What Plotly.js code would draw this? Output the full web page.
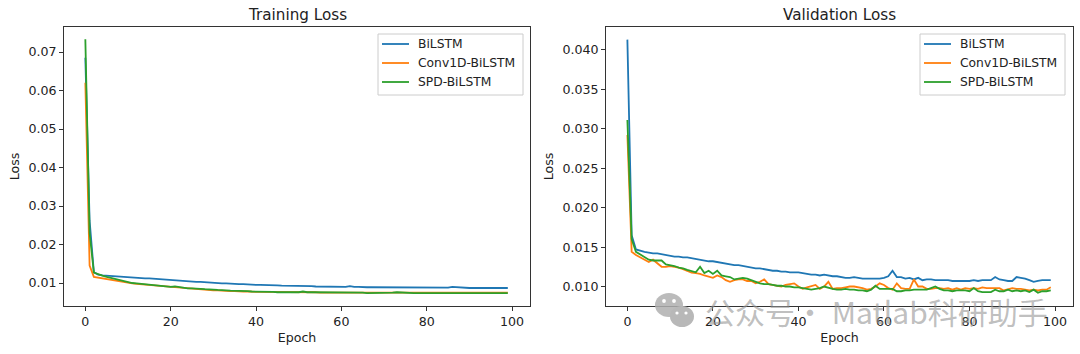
<!DOCTYPE html>
<html><head><meta charset="utf-8">
<script src="https://cdn.plot.ly/plotly-3.0.1.min.js"></script>
<style>html,body{margin:0;padding:0;background:#fff}</style></head>
<body><div id="chart" style="width:1080px;height:354px"></div>
<script>
const epochs = Array.from({length:100},(_,i)=>i);
const seriesNames = ['BiLSTM','Conv1D-BiLSTM','SPD-BiLSTM'];
const seriesColors = ['#1f77b4','#ff7f0e','#2ca02c'];
const xTicks = [0,20,40,60,80,100];
const trainTicks = [0.01,0.02,0.03,0.04,0.05,0.06,0.07];
const valTicks = [0.010,0.015,0.020,0.025,0.030,0.035,0.040];

const trainBiLSTM = [0.0685,0.0262,0.0128,0.0122,0.0120,0.0119,0.0119,0.0118,0.0117,0.0116,
0.0115,0.0115,0.0114,0.0113,0.0112,0.0112,0.0111,0.0110,0.0109,0.0108,
0.0107,0.0107,0.0106,0.0105,0.0105,0.0104,0.0103,0.0103,0.0102,0.0101,
0.0100,0.0100,0.0099,0.0099,0.0098,0.0098,0.0097,0.0097,0.0096,0.0096,
0.0095,0.0095,0.0095,0.0094,0.0094,0.0094,0.0093,0.0093,0.0093,0.0092,
0.0092,0.0092,0.0092,0.0092,0.0091,0.0091,0.0091,0.0091,0.0090,0.0090,
0.0090,0.0090,0.0092,0.0090,0.0090,0.0089,0.0089,0.0089,0.0089,0.0089,
0.0089,0.0089,0.0089,0.0089,0.0089,0.0089,0.0089,0.0088,0.0088,0.0088,
0.0088,0.0088,0.0088,0.0088,0.0088,0.0088,0.0090,0.0089,0.0088,0.0087,
0.0087,0.0087,0.0087,0.0087,0.0087,0.0087,0.0087,0.0087,0.0087,0.0087];
const trainConv = [0.0620,0.0145,0.0116,0.0114,0.0112,0.0110,0.0108,0.0106,0.0104,0.0102,
0.0100,0.0099,0.0098,0.0097,0.0096,0.0095,0.0094,0.0092,0.0091,0.0090,
0.0089,0.0089,0.0088,0.0087,0.0085,0.0085,0.0084,0.0084,0.0083,0.0082,
0.0081,0.0081,0.0080,0.0080,0.0079,0.0079,0.0078,0.0078,0.0078,0.0077,
0.0077,0.0077,0.0077,0.0076,0.0076,0.0076,0.0076,0.0076,0.0076,0.0076,
0.0076,0.0076,0.0076,0.0076,0.0076,0.0075,0.0075,0.0075,0.0076,0.0076,
0.0076,0.0076,0.0076,0.0075,0.0075,0.0075,0.0075,0.0075,0.0075,0.0075,
0.0075,0.0075,0.0076,0.0076,0.0075,0.0075,0.0075,0.0075,0.0075,0.0075,
0.0075,0.0076,0.0075,0.0075,0.0075,0.0075,0.0075,0.0075,0.0076,0.0075,
0.0075,0.0076,0.0075,0.0075,0.0075,0.0075,0.0075,0.0075,0.0075,0.0075];
const trainSPD = [0.0733,0.0230,0.0127,0.0122,0.0119,0.0116,0.0113,0.0111,0.0108,0.0105,
0.0102,0.0100,0.0099,0.0098,0.0097,0.0096,0.0095,0.0094,0.0092,0.0091,
0.0090,0.0091,0.0089,0.0088,0.0086,0.0086,0.0086,0.0085,0.0084,0.0084,
0.0083,0.0082,0.0082,0.0081,0.0080,0.0080,0.0079,0.0079,0.0079,0.0078,
0.0078,0.0078,0.0077,0.0077,0.0077,0.0076,0.0076,0.0076,0.0076,0.0076,
0.0076,0.0078,0.0076,0.0076,0.0076,0.0075,0.0075,0.0075,0.0075,0.0075,
0.0075,0.0075,0.0075,0.0075,0.0075,0.0075,0.0074,0.0074,0.0074,0.0075,
0.0075,0.0075,0.0075,0.0076,0.0075,0.0075,0.0074,0.0074,0.0074,0.0074,
0.0074,0.0074,0.0074,0.0074,0.0074,0.0074,0.0074,0.0074,0.0074,0.0074,
0.0074,0.0074,0.0074,0.0074,0.0074,0.0074,0.0074,0.0074,0.0074,0.0074];

const valBiLSTM = [0.0413,0.0165,0.0147,0.0145,0.0144,0.0143,0.0142,0.0142,0.0141,0.0140,
0.0139,0.0138,0.0138,0.0137,0.0137,0.0136,0.0135,0.0134,0.0133,0.0132,
0.0132,0.0131,0.0130,0.0129,0.0128,0.0127,0.0127,0.0126,0.0125,0.0124,
0.0123,0.0123,0.0122,0.0121,0.0120,0.0120,0.0119,0.0119,0.0118,0.0118,
0.0118,0.0117,0.0116,0.0115,0.0115,0.0114,0.0115,0.0114,0.0113,0.0113,
0.0112,0.0111,0.0111,0.0112,0.0111,0.0110,0.0110,0.0110,0.0110,0.0110,
0.0111,0.0113,0.0120,0.0112,0.0112,0.0110,0.0111,0.0109,0.0111,0.0108,
0.0109,0.0109,0.0108,0.0108,0.0108,0.0108,0.0107,0.0107,0.0107,0.0107,
0.0107,0.0108,0.0107,0.0108,0.0108,0.0108,0.0112,0.0109,0.0108,0.0107,
0.0107,0.0112,0.0111,0.0110,0.0108,0.0106,0.0107,0.0108,0.0108,0.0108];
const valConv = [0.0292,0.0144,0.0140,0.0137,0.0133,0.0131,0.0134,0.0130,0.0125,0.0125,
0.0126,0.0125,0.0124,0.0122,0.0120,0.01175,0.0117,0.0116,0.0114,0.0112,
0.0111,0.0114,0.0112,0.0108,0.0106,0.0108,0.0109,0.0109,0.0107,0.0107,
0.0104,0.0106,0.0109,0.0103,0.0102,0.0101,0.0100,0.0102,0.0103,0.0104,
0.0100,0.0097,0.0099,0.0101,0.0102,0.0097,0.0100,0.0106,0.0097,0.0098,
0.0098,0.0099,0.0100,0.0100,0.0099,0.0098,0.0096,0.0097,0.0100,0.0104,
0.0102,0.0098,0.0096,0.0104,0.0098,0.0097,0.0097,0.0109,0.0100,0.0100,
0.0097,0.0097,0.0098,0.0098,0.0097,0.0098,0.0096,0.0098,0.0096,0.0098,
0.0097,0.0098,0.0097,0.0099,0.0098,0.0098,0.0098,0.0098,0.0095,0.0097,
0.0098,0.0097,0.0097,0.0096,0.0095,0.0096,0.0095,0.0096,0.0096,0.0099];
const valSPD = [0.0311,0.0160,0.0144,0.0141,0.0138,0.0134,0.0133,0.0133,0.0133,0.0128,
0.0127,0.0126,0.0124,0.0123,0.0121,0.0119,0.0118,0.0125,0.0117,0.0120,
0.0116,0.0120,0.0114,0.0113,0.0112,0.0109,0.0110,0.0111,0.0110,0.0108,
0.0106,0.0104,0.0103,0.0103,0.0102,0.0101,0.0101,0.0100,0.0100,0.0099,
0.0099,0.0098,0.0097,0.0096,0.0097,0.0098,0.0100,0.0098,0.0097,0.0096,
0.0096,0.0097,0.0096,0.0096,0.0095,0.0095,0.0094,0.0096,0.0101,0.0097,
0.0097,0.0097,0.0097,0.0094,0.0094,0.0095,0.0095,0.0096,0.0096,0.0096,
0.0096,0.0098,0.0100,0.0097,0.0095,0.0095,0.0094,0.0095,0.0095,0.0095,
0.0094,0.0098,0.0094,0.0093,0.0093,0.0093,0.0096,0.0094,0.0094,0.0096,
0.0094,0.0095,0.0094,0.0095,0.0093,0.0096,0.0092,0.0094,0.0094,0.0095];

const W=1080,H=354;
const px=v=>v/W, py=v=>1-v/H;
function line(y,i,ax){return {x:epochs,y:y,xaxis:'x'+ax,yaxis:'y'+ax,type:'scatter',mode:'lines',
  name:seriesNames[i],showlegend:false,line:{color:seriesColors[i],width:1.8}};}
const data=[line(trainBiLSTM,0,''),line(trainConv,1,''),line(trainSPD,2,''),
            line(valBiLSTM,0,'2'),line(valConv,1,'2'),line(valSPD,2,'2')];
const TXT='#222', FS=12.6;
const font={family:'"DejaVu Sans",sans-serif',size:FS,color:TXT};
const base={showgrid:false,zeroline:false,showline:true,linecolor:'#333',linewidth:1,mirror:true,ticks:'outside',ticklen:4,tickcolor:'#333',tickwidth:1,tickfont:{size:FS,color:TXT}};
const xTitle={text:'Epoch',font:{size:FS,color:TXT},standoff:5};
const yTitle={text:'Loss',font:{size:FS,color:TXT},standoff:6};
const layout={width:W,height:H,margin:{l:0,r:0,t:0,b:0},paper_bgcolor:'#fff',plot_bgcolor:'#fff',font:font,showlegend:false,
 xaxis:Object.assign({},base,{domain:[px(64),px(530)],range:[-5.0,104.2],tickvals:xTicks,ticktext:xTicks.map(String),title:xTitle,anchor:'y'}),
 yaxis:Object.assign({},base,{domain:[py(306),py(27)],range:[0.00403,0.0765],tickvals:trainTicks,ticktext:trainTicks.map(v=>v.toFixed(2)),title:yTitle,anchor:'x'}),
 xaxis2:Object.assign({},base,{domain:[px(606),px(1073)],range:[-5.0,104.2],tickvals:xTicks,ticktext:xTicks.map(String),title:xTitle,anchor:'y2'}),
 yaxis2:Object.assign({},base,{domain:[py(306),py(27)],range:[0.00753,0.0429],tickvals:valTicks,ticktext:valTicks.map(v=>v.toFixed(3)),title:yTitle,anchor:'x2'}),
 shapes:[],annotations:[]};
function ann(text,x,y,size,color,xanchor){return {xref:'paper',yref:'paper',x:px(x),y:py(y),text:text,showarrow:false,xanchor:xanchor||'center',yanchor:'middle',font:{size:size,color:color||TXT}};}
layout.annotations.push(ann('Training Loss',297,15,15.2));
layout.annotations.push(ann('Validation Loss',839,15,15.2));
function legend(x0,x1){
  layout.shapes.push({type:'rect',xref:'paper',yref:'paper',x0:px(x0),x1:px(x1),y0:py(95),y1:py(34),line:{color:'#ccc',width:1},fillcolor:'rgba(255,255,255,0.8)',layer:'above'});
  [44,63,82].forEach((ly,i)=>{
    layout.shapes.push({type:'line',xref:'paper',yref:'paper',x0:px(x0+4),x1:px(x0+31),y0:py(ly),y1:py(ly),line:{color:seriesColors[i],width:1.8},layer:'above'});
    layout.annotations.push(ann(seriesNames[i],x0+38,ly,12.3,TXT,'left'));
  });
}
legend(378,523);legend(920,1065);
// watermark
const wm='rgba(175,175,175,0.85)';
function circ(cx,cy,rx,ry,fill){layout.shapes.push({type:'circle',xref:'paper',yref:'paper',x0:px(cx-rx),x1:px(cx+rx),y0:py(cy+ry),y1:py(cy-ry),line:{width:0},fillcolor:fill,layer:'above'});}
circ(669,305,14,12,wm);
circ(664,301,1.9,1.9,'#fff');circ(674,301,1.9,1.9,'#fff');
circ(682,316.5,12,10.5,'#b8b8b8');
circ(677,313,1.6,1.6,'#fff');circ(686,313,1.6,1.6,'#fff');
const w=ann('公众号· Matlab科研助手',703,311,30,'rgba(150,150,150,0.62)','left');
w.font.family='"Noto Sans CJK SC",sans-serif';
layout.annotations.push(w);
Plotly.newPlot('chart',data,layout,{staticPlot:true,displayModeBar:false});
</script></body></html>
